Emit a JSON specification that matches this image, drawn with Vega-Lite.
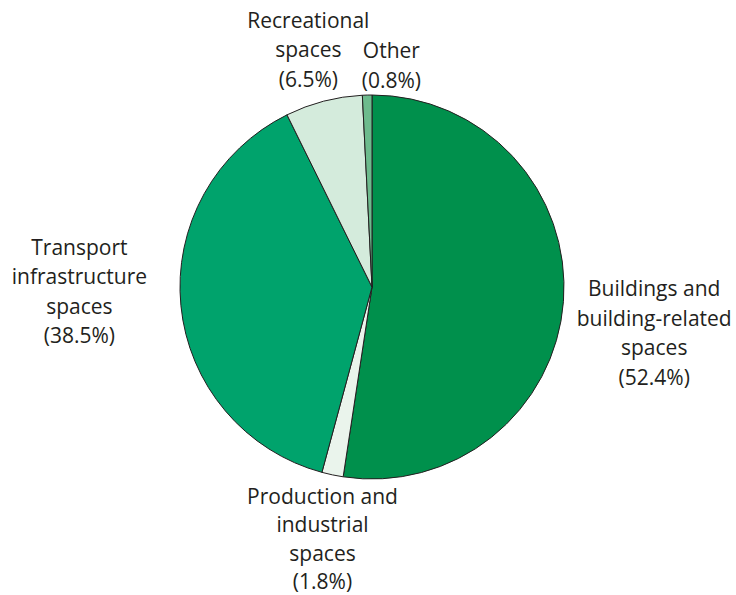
{
  "$schema": "https://vega.github.io/schema/vega-lite/v6.json",
  "width": 384,
  "height": 384,
  "autosize": {"type": "none"},
  "padding": {"left": 180, "top": 95, "right": 172, "bottom": 116},
  "background": "white",
  "config": {"view": {"stroke": null}},
  "data": {
    "values": [
      {"order": 1, "name": "Buildings", "value": 52.4, "label": "Buildings and\nbuilding-related\nspaces\n(52.4%)"},
      {"order": 2, "name": "Production", "value": 1.8, "label": "Production and\nindustrial\nspaces\n(1.8%)"},
      {"order": 3, "name": "Transport", "value": 38.5, "label": "Transport\ninfrastructure\nspaces\n(38.5%)"},
      {"order": 4, "name": "Recreational", "value": 6.5, "label": "Recreational\nspaces\n(6.5%)"},
      {"order": 5, "name": "Other", "value": 0.8, "label": "Other\n(0.8%)"}
    ]
  },
  "transform": [
    {"stack": "value", "groupby": [], "sort": [{"field": "order", "order": "ascending"}], "as": ["v0", "v1"]},
    {"calculate": "(datum.v0 + datum.v1) / 2", "as": "mid"}
  ],
  "layer": [
    {
      "mark": {"type": "arc", "radius": 192, "stroke": "#231F20", "strokeWidth": 1},
      "encoding": {
        "theta": {"field": "v0", "type": "quantitative", "scale": {"domain": [0, 100]}},
        "theta2": {"field": "v1"},
        "color": {
          "field": "name", "type": "nominal", "legend": null,
          "scale": {
            "domain": ["Buildings", "Production", "Transport", "Recreational", "Other"],
            "range": ["#00904C", "#EAF4EC", "#00A36C", "#D4EBDC", "#6DBB8D"]
          }
        }
      }
    },
    {
      "transform": [{"filter": "datum.name == 'Buildings'"}],
      "mark": {"type": "text", "radius": 281, "dx": 2, "dy": -18, "lineBreak": "\n", "font": "Open Sans", "fontSize": 21, "lineHeight": 29.5, "color": "#231F20", "align": "center", "baseline": "middle"},
      "encoding": {"theta": {"field": "mid", "type": "quantitative", "scale": {"domain": [0, 100]}}, "text": {"field": "label"}}
    },
    {
      "transform": [{"filter": "datum.name == 'Production'"}],
      "mark": {"type": "text", "radius": 255, "dx": 3, "dy": -39, "lineBreak": "\n", "font": "Open Sans", "fontSize": 21, "lineHeight": 28.5, "color": "#231F20", "align": "center", "baseline": "middle"},
      "encoding": {"theta": {"field": "mid", "type": "quantitative", "scale": {"domain": [0, 100]}}, "text": {"field": "label"}}
    },
    {
      "transform": [{"filter": "datum.name == 'Transport'"}],
      "mark": {"type": "text", "radius": 294, "dy": -67, "lineBreak": "\n", "font": "Open Sans", "fontSize": 21, "lineHeight": 29.5, "color": "#231F20", "align": "center", "baseline": "middle"},
      "encoding": {"theta": {"field": "mid", "type": "quantitative", "scale": {"domain": [0, 100]}}, "text": {"field": "label"}}
    },
    {
      "transform": [{"filter": "datum.name == 'Recreational'"}],
      "mark": {"type": "text", "radius": 245, "dx": -2, "dy": -28, "lineBreak": "\n", "font": "Open Sans", "fontSize": 21, "lineHeight": 29.5, "color": "#231F20", "align": "center", "baseline": "middle"},
      "encoding": {"theta": {"field": "mid", "type": "quantitative", "scale": {"domain": [0, 100]}}, "text": {"field": "label"}}
    },
    {
      "transform": [{"filter": "datum.name == 'Other'"}],
      "mark": {"type": "text", "radius": 223, "dx": 25, "dy": -12, "lineBreak": "\n", "font": "Open Sans", "fontSize": 21, "lineHeight": 29.5, "color": "#231F20", "align": "center", "baseline": "middle"},
      "encoding": {"theta": {"field": "mid", "type": "quantitative", "scale": {"domain": [0, 100]}}, "text": {"field": "label"}}
    }
  ]
}
